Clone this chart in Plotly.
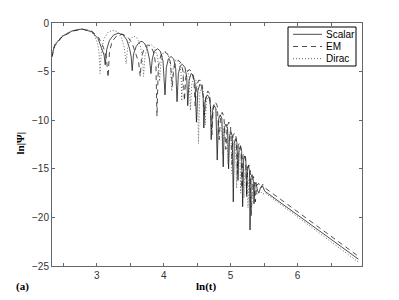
import plotly.graph_objects as go

# ---- data (ln t, ln|Psi|) ----
scalar_x = [2.332, 2.37, 2.48, 2.63, 2.78, 2.925, 3.02, 3.08, 3.11, 3.127,
            3.15, 3.19, 3.25, 3.32, 3.39, 3.45, 3.49, 3.515, 3.53,
            3.55, 3.59, 3.64, 3.68, 3.72, 3.76, 3.79, 3.81,
            3.83, 3.86, 3.91, 3.95, 3.99, 4.02,
            4.04, 4.07, 4.11, 4.15, 4.18, 4.20,
            4.22, 4.25, 4.28, 4.32, 4.345, 4.36,
            4.38, 4.41, 4.44, 4.47, 4.49,
            4.51, 4.54, 4.565, 4.59, 4.60,
            4.62, 4.65, 4.68, 4.70, 4.71,
            4.73, 4.755, 4.78, 4.80,
            4.82, 4.845, 4.87, 4.89,
            4.905, 4.93, 4.955, 4.97,
            4.985, 5.005, 5.025, 5.04,
            5.055, 5.075, 5.095, 5.11,
            5.125, 5.145, 5.165, 5.18,
            5.195, 5.21, 5.228, 5.24,
            5.252, 5.268, 5.282, 5.29,
            5.305, 5.32, 5.338, 5.35,
            5.365, 5.38, 5.40, 5.42, 5.45, 5.48, 5.51, 6.91]
scalar_y = [-3.4, -2.3, -1.4, -0.82, -0.62, -0.9, -1.6, -2.6, -3.3, -4.3,
            -2.7, -1.8, -1.25, -1.05, -1.2, -1.75, -2.6, -3.5, -4.9,
            -3.2, -2.4, -1.95, -1.9, -2.15, -2.8, -3.8, -5.2,
            -3.7, -2.9, -2.65, -2.9, -3.9, -7.4,
            -4.6, -3.7, -3.45, -3.7, -4.7, -8.1,
            -5.2, -4.4, -4.25, -4.6, -5.6, -8.5,
            -5.9, -5.2, -5.35, -6.3, -10.2,
            -7.0, -6.3, -6.5, -7.5, -10.8,
            -8.0, -7.4, -7.6, -8.6, -12.0,
            -9.0, -8.5, -8.8, -14.1,
            -9.9, -9.45, -9.8, -14.8,
            -10.8, -10.4, -10.8, -15.0,
            -11.6, -11.2, -11.6, -18.4,
            -12.4, -11.9, -12.3, -16.2,
            -13.1, -12.7, -13.2, -18.9,
            -14.0, -13.7, -14.2, -17.5,
            -15.0, -14.7, -15.2, -21.3,
            -15.9, -15.6, -16.0, -18.6,
            -16.6, -16.4, -17.2, -17.5, -16.9, -16.8, -17.3, -24.3]

em_x = [2.332, 2.37, 2.48, 2.63, 2.78, 2.93, 3.03, 3.10, 3.145, 3.17,
        3.19, 3.23, 3.30, 3.38, 3.46, 3.53, 3.58, 3.625, 3.65,
        3.67, 3.71, 3.76, 3.81, 3.855, 3.885, 3.90,
        3.92, 3.96, 4.01, 4.06, 4.10, 4.13,
        4.15, 4.18, 4.22, 4.26, 4.29, 4.31,
        4.33, 4.36, 4.39, 4.43, 4.455, 4.47,
        4.49, 4.52, 4.55, 4.58, 4.61,
        4.63, 4.66, 4.69, 4.72,
        4.74, 4.77, 4.80, 4.83,
        4.85, 4.875, 4.90, 4.93,
        4.95, 4.975, 5.00, 5.02,
        5.035, 5.06, 5.085, 5.10,
        5.115, 5.135, 5.155, 5.17,
        5.185, 5.205, 5.225, 5.24,
        5.255, 5.275, 5.295, 5.31,
        5.325, 5.34, 5.357, 5.37,
        5.39, 5.42, 5.45, 5.48, 5.52, 6.91]
em_y = [-3.5, -2.4, -1.45, -0.85, -0.63, -0.85, -1.5, -2.5, -3.6, -5.6,
        -3.0, -1.9, -1.3, -1.15, -1.4, -2.1, -3.1, -4.0, -5.5,
        -3.5, -2.6, -2.25, -2.4, -3.1, -4.5, -9.6,
        -4.5, -3.3, -2.95, -3.2, -4.0, -6.5,
        -4.8, -4.0, -3.85, -4.1, -5.0, -8.0,
        -5.6, -4.9, -4.8, -5.2, -6.2, -8.5,
        -6.6, -5.9, -5.9, -6.5, -9.5,
        -7.6, -7.0, -7.3, -11.5,
        -8.6, -8.1, -8.5, -12.0,
        -9.6, -9.2, -9.6, -13.0,
        -10.6, -10.2, -10.7, -14.5,
        -11.6, -11.3, -11.8, -15.5,
        -12.6, -12.3, -12.8, -17.0,
        -13.6, -13.4, -13.9, -18.0,
        -14.8, -14.6, -15.2, -19.8,
        -16.0, -15.8, -16.2, -18.4,
        -16.7, -16.5, -17.0, -16.6, -17.0, -24.0]

dirac_x = [2.332, 2.37, 2.48, 2.63, 2.76, 2.88, 2.96, 3.01, 3.035, 3.05,
           3.07, 3.11, 3.17, 3.24, 3.31, 3.37, 3.41, 3.44,
           3.46, 3.50, 3.55, 3.60, 3.65, 3.68, 3.70,
           3.72, 3.76, 3.81, 3.86, 3.91, 3.94,
           3.96, 3.99, 4.03, 4.07, 4.10, 4.12,
           4.14, 4.17, 4.20, 4.24, 4.26, 4.27,
           4.29, 4.32, 4.35, 4.38, 4.40,
           4.42, 4.45, 4.48, 4.505, 4.52,
           4.54, 4.565, 4.59, 4.62,
           4.64, 4.665, 4.69, 4.72,
           4.74, 4.76, 4.785, 4.80,
           4.82, 4.84, 4.865, 4.88,
           4.90, 4.92, 4.945, 4.96,
           4.975, 4.99, 5.01, 5.02,
           5.035, 5.055, 5.075, 5.09,
           5.105, 5.12, 5.138, 5.15,
           5.163, 5.178, 5.19, 5.20,
           5.213, 5.228, 5.245, 5.26,
           5.273, 5.287, 5.30, 5.31,
           5.33, 5.36, 5.40, 5.44, 5.48, 5.52, 6.91]
dirac_y = [-3.2, -2.2, -1.35, -0.8, -0.6, -0.75, -1.2, -2.0, -3.0, -5.2,
           -2.8, -1.6, -0.95, -0.75, -0.9, -1.5, -2.5, -4.2,
           -2.6, -1.7, -1.35, -1.5, -2.3, -3.4, -5.5,
           -3.4, -2.4, -2.2, -2.5, -3.5, -6.0,
           -4.0, -3.1, -2.95, -3.3, -4.3, -7.0,
           -4.7, -3.9, -3.8, -4.2, -5.1, -8.0,
           -5.5, -4.8, -4.8, -5.5, -9.0,
           -6.3, -5.7, -5.9, -6.8, -12.4,
           -7.2, -6.7, -7.0, -10.5,
           -8.0, -7.6, -7.9, -11.5,
           -8.9, -8.6, -9.0, -12.5,
           -9.8, -9.5, -9.9, -13.5,
           -10.7, -10.4, -10.8, -14.5,
           -11.5, -11.2, -11.7, -15.5,
           -12.3, -12.0, -12.5, -17.0,
           -13.2, -12.9, -13.4, -17.5,
           -14.0, -13.8, -14.3, -18.0,
           -15.0, -14.8, -15.3, -19.0,
           -16.0, -15.8, -16.2, -19.5,
           -16.8, -17.0, -17.6, -17.3, -17.6, -17.5, -24.6]

series_names = ["Scalar", "EM", "Dirac"]
x_tickvals = [2.5, 3, 3.5, 4, 4.5, 5, 5.5, 6, 6.5]
x_ticktext = ["", "3", "", "4", "", "5", "", "6", ""]
y_tickvals = [0, -5, -10, -15, -20, -25]

styles = [dict(color="#111111", width=0.75, dash="solid"),
          dict(color="#111111", width=0.75, dash="5px,4px"),
          dict(color="#666666", width=1.0, dash="1px,2px")]

fig = go.Figure()
for name, xs, ys, st in zip(series_names, [scalar_x, em_x, dirac_x],
                            [scalar_y, em_y, dirac_y], styles):
    fig.add_trace(go.Scatter(x=xs, y=ys, mode="lines", name=name,
                             line=st, showlegend=False, hoverinfo="skip"))

L, R, T, B = 52, 37, 23, 34
W, H = 399, 300
pw, ph = W - L - R, H - T - B

def px(xp):
    return (xp - L) / pw

def py(yp):
    return 1 - (yp - T) / ph

# manual legend box (MATLAB style)
shapes = [dict(type="rect", xref="paper", yref="paper",
               x0=px(288), x1=px(356), y0=py(66), y1=py(27),
               line=dict(color="black", width=1), fillcolor="white", layer="above")]
annotations = []
rows = [34.3, 46.5, 58.7]
for name, st, ry in zip(series_names, styles, rows):
    shapes.append(dict(type="line", xref="paper", yref="paper",
                       x0=px(293), x1=px(322), y0=py(ry), y1=py(ry),
                       line=st, layer="above"))
    annotations.append(dict(text=name, xref="paper", yref="paper",
                            x=px(324), y=py(ry), xanchor="left", yanchor="middle",
                            showarrow=False,
                            font=dict(family="Liberation Sans", size=10, color="black")))

annotations += [
    dict(text="<b>ln(t)</b>", xref="paper", yref="paper", x=px(206), y=py(286),
         xanchor="center", yanchor="middle", showarrow=False,
         font=dict(family="Liberation Serif", size=11, color="black")),
    dict(text="<b>ln|\u03a8|</b>", xref="paper", yref="paper", x=px(19), y=py(143.5),
         xanchor="center", yanchor="middle", showarrow=False, textangle=-90,
         font=dict(family="Liberation Serif", size=11, color="black")),
    dict(text="<b>(a)</b>", xref="paper", yref="paper", x=px(22), y=py(286),
         xanchor="center", yanchor="middle", showarrow=False,
         font=dict(family="Liberation Serif", size=11, color="black")),
]

axis_common = dict(showgrid=False, zeroline=False, showline=True, linecolor="#666666",
                   linewidth=1, mirror="ticks", ticks="inside", ticklen=3,
                   tickcolor="#666666", tickwidth=1,
                   tickfont=dict(family="Liberation Sans", size=10, color="#333333"))

fig.update_layout(
    width=W, height=H,
    margin=dict(l=L, r=R, t=T, b=B),
    plot_bgcolor="white", paper_bgcolor="white",
    xaxis=dict(range=[2.332, 6.963], tickvals=x_tickvals, ticktext=x_ticktext, **axis_common),
    yaxis=dict(range=[-25, 0], tickvals=y_tickvals, **axis_common),
    shapes=shapes, annotations=annotations,
    showlegend=False,
)

fig.write_html("out.html", config={"displayModeBar": False},
               post_script="document.body.style.margin='0';document.body.style.overflow='hidden';")
